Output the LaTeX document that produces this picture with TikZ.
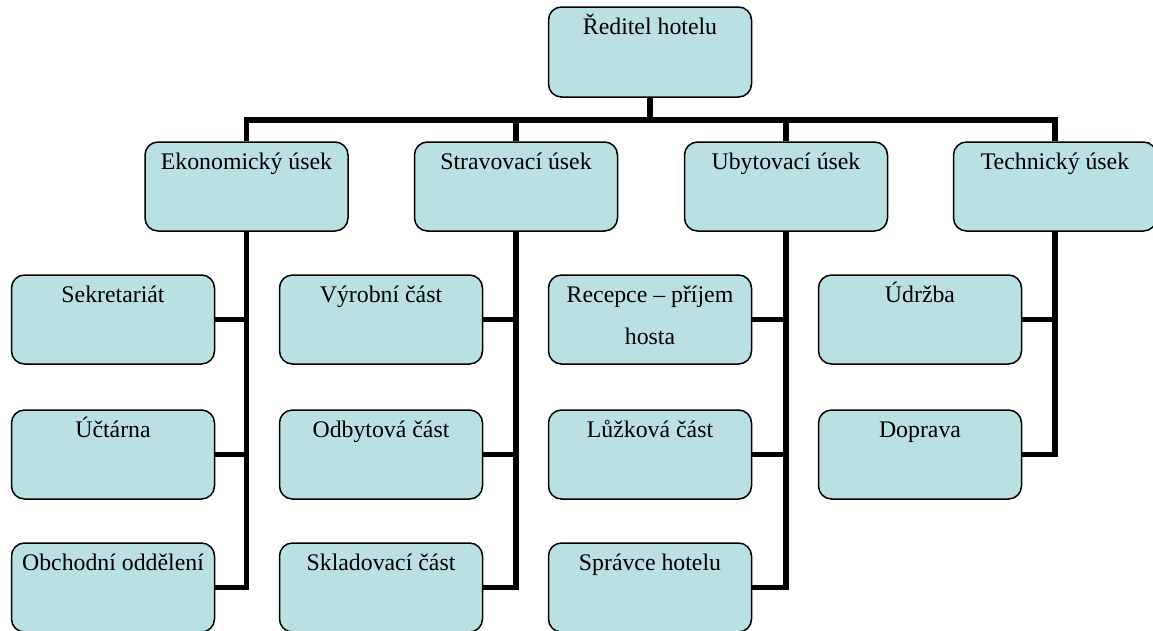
\documentclass[tikz,border=0pt]{standalone}
\usepackage{fontspec}
\setmainfont{Liberation Serif}
\usetikzlibrary{calc}
\definecolor{boxfill}{HTML}{BBE0E3}
\tikzset{
  orgbox/.style={draw=black, line width=1.5pt, fill=boxfill, rounded corners=13pt,
    minimum width=203pt, minimum height=89pt, inner sep=0pt},
  boxtext/.style={inner sep=0pt, anchor=base, align=center,
    font=\fontsize{23.8pt}{42pt}\selectfont},
  conn/.style={line width=5.5pt},
}
% title text on a fixed baseline below the top edge of its box
% (#2 = distance from the box top to the baseline of the last line)
\newcommand{\boxlabel}[3][28]{\node[boxtext] (#2-t) at ($(#2.north)+(0,#1)$) {#3};}
\begin{document}
\begin{tikzpicture}[x=1pt,y=-1pt]
  \clip (0,0) rectangle (1153,630);
  \fill[white] (0,0) rectangle (1153,630);

  % director
  \node[orgbox, minimum height=90pt] (dir) at (650,52) {};
  \boxlabel{dir}{Ředitel hotelu}

  % departments
  \node[orgbox] (ek) at (246.5,186.5) {};
  \node[orgbox] (st) at (516,186.5) {};
  \node[orgbox] (ub) at (786,186.5) {};
  \node[orgbox] (te) at (1055,186.5) {};
  \boxlabel{ek}{Ekonomický úsek}
  \boxlabel{st}{Stravovací úsek}
  \boxlabel{ub}{Ubytovací úsek}
  \boxlabel{te}{Technický úsek}

  % sections
  \node[orgbox] (se) at (113,319.5) {};
  \node[orgbox] (uc) at (113,454.5) {};
  \node[orgbox] (ob) at (113,587.5) {};
  \node[orgbox] (vy) at (381,319.5) {};
  \node[orgbox] (od) at (381,454.5) {};
  \node[orgbox] (sk) at (381,587.5) {};
  \node[orgbox] (re) at (650,319.5) {};
  \node[orgbox] (lu) at (650,454.5) {};
  \node[orgbox] (sp) at (650,587.5) {};
  \node[orgbox] (ud) at (920,319.5) {};
  \node[orgbox] (do) at (920,454.5) {};

  \boxlabel{se}{Sekretariát}
  \boxlabel{uc}{Účtárna}
  \boxlabel{ob}{Obchodní oddělení}
  \boxlabel{vy}{Výrobní část}
  \boxlabel{od}{Odbytová část}
  \boxlabel{sk}{Skladovací část}
  \boxlabel[70]{re}{Recepce – příjem\\hosta}
  \boxlabel{lu}{Lůžková část}
  \boxlabel{sp}{Správce hotelu}
  \boxlabel{ud}{Údržba}
  \boxlabel{do}{Doprava}

  % top-level bus
  \coordinate (bus) at (650,120);
  \draw[conn] (dir.south) -- (bus);
  \draw[conn] (ek.north) -- (ek.north |- bus) -- (te.north |- bus) -- (te.north);
  \draw[conn] (st.north) -- (st.north |- bus);
  \draw[conn] (ub.north) -- (ub.north |- bus);

  % department trunks
  \draw[conn] (ek.south) |- (ob.east);
  \draw[conn] (se.east) -- (se.east -| ek.south);
  \draw[conn] (uc.east) -- (uc.east -| ek.south);

  \draw[conn] (st.south) |- (sk.east);
  \draw[conn] (vy.east) -- (vy.east -| st.south);
  \draw[conn] (od.east) -- (od.east -| st.south);

  \draw[conn] (ub.south) |- (sp.east);
  \draw[conn] (re.east) -- (re.east -| ub.south);
  \draw[conn] (lu.east) -- (lu.east -| ub.south);

  \draw[conn] (te.south) |- (do.east);
  \draw[conn] (ud.east) -- (ud.east -| te.south);
\end{tikzpicture}
\end{document}
